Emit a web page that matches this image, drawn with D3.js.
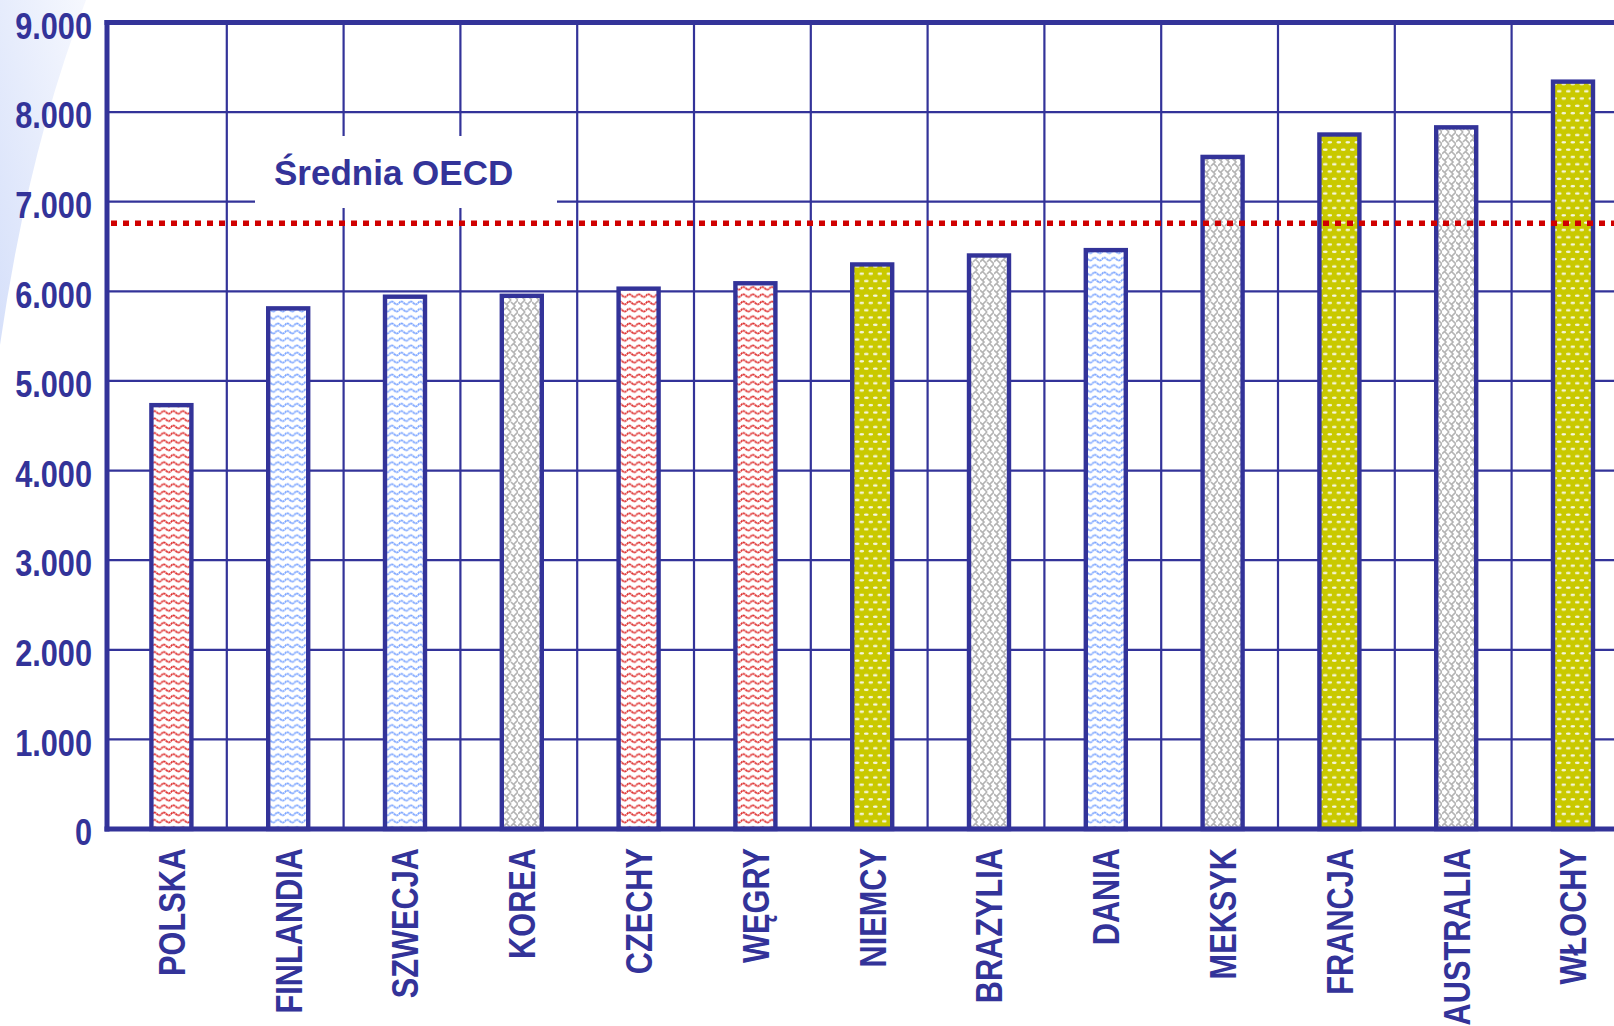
<!DOCTYPE html>
<html>
<head>
<meta charset="utf-8">
<script src="https://cdn.jsdelivr.net/npm/d3@7"></script>
<style>
  html, body { margin: 0; padding: 0; background: #ffffff; }
  svg { display: block; }
  .bold { font-family: "Liberation Sans", Arial, Helvetica, sans-serif; font-weight: bold; }
</style>
</head>
<body>
<svg id="chart" width="1614" height="1026"></svg>
<script>
// ---- data ----
const categories = ["POLSKA", "FINLANDIA", "SZWECJA", "KOREA", "CZECHY", "WĘGRY", "NIEMCY",
                    "BRAZYLIA", "DANIA", "MEKSYK", "FRANCJA", "AUSTRALIA", "WŁOCHY"];
const values = [4730, 5810, 5940, 5950, 6030, 6090, 6300, 6400, 6460, 7500, 7750, 7830, 8340];
const groups = ["red", "blue", "blue", "gray", "red", "red", "yellow",
                "gray", "blue", "gray", "yellow", "gray", "yellow"];
const yTicks = [0, 1000, 2000, 3000, 4000, 5000, 6000, 7000, 8000, 9000];
const tickLabels = ["0", "1.000", "2.000", "3.000", "4.000", "5.000", "6.000", "7.000", "8.000", "9.000"];
const oecdAverage = 6760;
const oecdLabel = "Średnia OECD";

// ---- layout ----
const W = 1614, H = 1026;
const NAVY = "#333399";
const NARROW = 0.83;
const svg = d3.select("#chart");

const y = d3.scaleLinear().domain([0, 9000]).range([829, 22.5]);
const x = d3.scaleBand().domain(categories).range([110, 110 + 13 * 116.8]).padding(0);
const xLeft = 107, xRight = W;

// ---- defs: background gradient + patterns ----
const defs = svg.append("defs");
const grad = defs.append("linearGradient").attr("id", "bgGrad")
  .attr("x1", "1").attr("y1", "0").attr("x2", "0").attr("y2", "1");
grad.append("stop").attr("offset", "0").attr("stop-color", "#f6f8fe");
grad.append("stop").attr("offset", "1").attr("stop-color", "#d6e0fa");

function wavePattern(id, color) {
  const p = defs.append("pattern").attr("id", id).attr("patternUnits", "userSpaceOnUse")
    .attr("width", 9.5).attr("height", 7.3);
  p.append("rect").attr("width", 9.5).attr("height", 7.3).attr("fill", "#ffffff");
  p.append("path").attr("d", "M-0.5,4.2 Q2.375,0.6 4.75,3.6 T10,3.3")
    .attr("fill", "none").attr("stroke", color).attr("stroke-width", 1.7)
    .attr("stroke-dasharray", "2.4,0.5");
}
wavePattern("pRed", "#de2c2c");
wavePattern("pBlue", "#7aa4ff");

const pg = defs.append("pattern").attr("id", "pGray").attr("patternUnits", "userSpaceOnUse")
  .attr("width", 14).attr("height", 12);
pg.append("rect").attr("width", 14).attr("height", 12).attr("fill", "#ffffff");
pg.append("path").attr("d", "M0,2 L4,6 L0,10 M7,0 L3,4 M7,12 L3,8 M7,2 L11,6 L7,10 M14,0 L10,4 M14,12 L10,8")
  .attr("fill", "none").attr("stroke", "#b4b4b4").attr("stroke-width", 1.7);

const py = defs.append("pattern").attr("id", "pYellow").attr("patternUnits", "userSpaceOnUse")
  .attr("width", 9).attr("height", 14.6);
py.append("rect").attr("width", 9).attr("height", 14.6).attr("fill", "#c9c900");
py.append("ellipse").attr("cx", 2.3).attr("cy", 3.6).attr("rx", 2.4).attr("ry", 1.2).attr("fill", "#f6f6de");
py.append("ellipse").attr("cx", 6.8).attr("cy", 10.9).attr("rx", 2.4).attr("ry", 1.2).attr("fill", "#f6f6de");

const fillFor = { red: "url(#pRed)", blue: "url(#pBlue)", gray: "url(#pGray)", yellow: "url(#pYellow)" };

// ---- decorative background at top-left ----
svg.append("path").attr("d", "M0,0 L86,0 Q28,150 0,345 Z").attr("fill", "url(#bgGrad)");

// ---- gridlines ----
const grid = svg.append("g");
grid.selectAll("line.h").data(yTicks.filter(d => d > 0 && d < 9000)).join("line")
  .attr("x1", xLeft).attr("x2", xRight)
  .attr("y1", d => y(d)).attr("y2", d => y(d))
  .attr("stroke", NAVY).attr("stroke-width", 2.2);
grid.selectAll("line.v").data(categories.slice(1)).join("line")
  .attr("x1", d => x(d)).attr("x2", d => x(d))
  .attr("y1", y(9000)).attr("y2", y(0))
  .attr("stroke", NAVY).attr("stroke-width", 2.2);

// ---- label box (covers grid) ----
svg.append("rect").attr("x", 255).attr("y", 136).attr("width", 302).attr("height", 72).attr("fill", "#ffffff");
svg.append("text").attr("class", "bold").attr("x", 274).attr("y", 185)
  .attr("font-size", 35).attr("fill", NAVY).text(oecdLabel);

// ---- bars ----
const barW = 40;
svg.append("g").selectAll("rect").data(categories).join("rect")
  .attr("x", d => x(d) + x.bandwidth() / 2 - barW / 2 + 3)
  .attr("width", barW)
  .attr("y", (d, i) => y(values[i]))
  .attr("height", (d, i) => y(0) - y(values[i]))
  .attr("fill", (d, i) => fillFor[groups[i]])
  .attr("stroke", NAVY).attr("stroke-width", 4.4);

// ---- OECD average line ----
svg.append("line").attr("x1", xLeft + 4).attr("x2", xRight)
  .attr("y1", y(oecdAverage)).attr("y2", y(oecdAverage))
  .attr("stroke", "#d00000").attr("stroke-width", 5.5).attr("stroke-dasharray", "6,6");

// ---- axes frame ----
svg.append("line").attr("x1", xLeft).attr("x2", xLeft).attr("y1", 20).attr("y2", 831.5)
  .attr("stroke", NAVY).attr("stroke-width", 5);
svg.append("line").attr("x1", xLeft - 2.5).attr("x2", xRight).attr("y1", y(0)).attr("y2", y(0))
  .attr("stroke", NAVY).attr("stroke-width", 5);
svg.append("line").attr("x1", xLeft - 2.5).attr("x2", xRight).attr("y1", y(9000)).attr("y2", y(9000))
  .attr("stroke", NAVY).attr("stroke-width", 5);

// ---- y tick labels ----
svg.append("g").selectAll("text").data(yTicks).join("text")
  .attr("class", "bold")
  .attr("transform", d => `translate(92,${y(d) + 3}) scale(${NARROW},1)`)
  .attr("dy", "0.36em").attr("text-anchor", "end")
  .attr("font-size", 37).attr("fill", NAVY)
  .text((d, i) => tickLabels[i]);

// ---- category labels ----
svg.append("g").selectAll("text").data(categories).join("text")
  .attr("class", "bold")
  .attr("transform", d => `translate(${x(d) + x.bandwidth() / 2 + 3},848) rotate(-90) scale(${NARROW},1)`)
  .attr("dy", "0.36em").attr("text-anchor", "end")
  .attr("font-size", 37).attr("fill", NAVY)
  .text(d => d);
</script>
</body>
</html>
